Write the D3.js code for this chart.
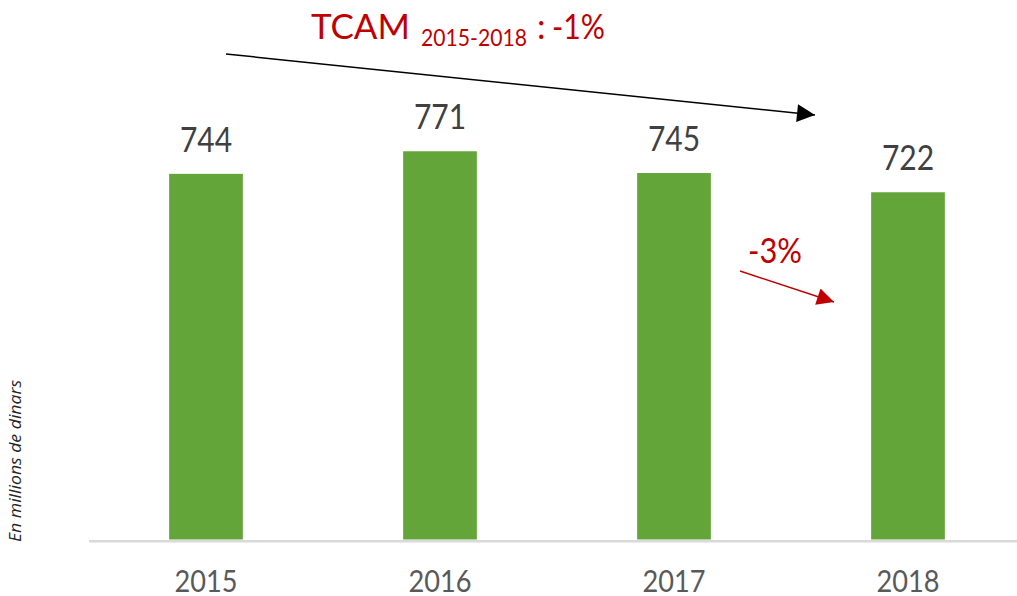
<!DOCTYPE html>
<html>
<head>
<meta charset="utf-8">
<script src="https://cdn.jsdelivr.net/npm/d3@7"></script>
<style>
  html, body { margin: 0; padding: 0; background: #fff; }
  svg { display: block; }
</style>
</head>
<body>
<svg id="chart" width="1017" height="596"></svg>
<script>
/* ── DATA ─────────────────────────────────────────────────────────── */
const years  = ['2015', '2016', '2017', '2018'];
const values = [744, 771, 745, 722];
const unitLabel  = 'En millions de dinars';
const trendMain  = ['TCAM', '2015-2018', ':', '-1%'];
const trendLast  = '-3%';

/* ── LAYOUT ───────────────────────────────────────────────────────── */
const W = 1017, H = 596;
const RED = '#C00000';
const GREEN = '#64A539';
const FONT = 'Lato, sans-serif';

const svg = d3.select('#chart');

const x = d3.scaleBand()
  .domain(years)
  .range([89, 1025])
  .paddingInner(0.685)
  .paddingOuter(0.3425);

const y = d3.scaleLinear()
  .domain([307, 800])
  .range([539.5, 127]);

/* ── AXIS LINE ────────────────────────────────────────────────────── */
svg.append('line')
  .attr('x1', 89).attr('x2', W)
  .attr('y1', 541.3).attr('y2', 541.3)
  .attr('stroke', '#d9d9d9')
  .attr('stroke-width', 2.5);

/* ── BARS ─────────────────────────────────────────────────────────── */
svg.selectAll('rect.bar')
  .data(values)
  .join('rect')
  .attr('class', 'bar')
  .attr('x', (d, i) => x(years[i]))
  .attr('width', x.bandwidth())
  .attr('y', d => y(d))
  .attr('height', d => y.range()[0] - y(d))
  .attr('fill', GREEN);

/* value labels */
svg.selectAll('text.val')
  .data(values)
  .join('text')
  .attr('class', 'val')
  .attr('x', (d, i) => x(years[i]) + x.bandwidth() / 2)
  .attr('y', d => y(d) - 22)
  .attr('text-anchor', 'middle')
  .attr('font-family', FONT)
  .attr('font-size', 35)
  .attr('textLength', d => String(d).length * 17.4)
  .attr('lengthAdjust', 'spacingAndGlyphs')
  .attr('fill', '#404040')
  .text(d => d);

/* year labels */
svg.selectAll('text.year')
  .data(years)
  .join('text')
  .attr('class', 'year')
  .attr('x', d => x(d) + x.bandwidth() / 2)
  .attr('y', 592)
  .attr('text-anchor', 'middle')
  .attr('font-family', FONT)
  .attr('font-size', 31)
  .attr('textLength', 63)
  .attr('lengthAdjust', 'spacingAndGlyphs')
  .attr('fill', '#595959')
  .text(d => d);

/* unit label */
svg.append('text')
  .attr('transform', 'translate(21,461) rotate(-90)')
  .attr('text-anchor', 'middle')
  .attr('font-family', '"Open Sans", sans-serif')
  .attr('font-style', 'italic')
  .attr('font-size', 15.5)
  .attr('textLength', 162)
  .attr('lengthAdjust', 'spacingAndGlyphs')
  .attr('fill', '#262626')
  .text(unitLabel);

/* ── TREND ARROWS ─────────────────────────────────────────────────── */
const defs = svg.append('defs');
function marker(id, color, w, h) {
  defs.append('marker')
    .attr('id', id)
    .attr('viewBox', '0 0 10 10')
    .attr('refX', 10).attr('refY', 5)
    .attr('markerUnits', 'userSpaceOnUse')
    .attr('markerWidth', w).attr('markerHeight', h)
    .attr('orient', 'auto')
    .append('path')
    .attr('d', 'M0,0L10,5L0,10Z')
    .attr('fill', color);
}
marker('arrow-black', '#000', 20, 18);
marker('arrow-red', RED, 20, 17);

svg.append('line')
  .attr('x1', 226).attr('y1', 54)
  .attr('x2', 815).attr('y2', 115)
  .attr('stroke', '#000')
  .attr('stroke-width', 1.5)
  .attr('marker-end', 'url(#arrow-black)');

svg.append('line')
  .attr('x1', 740).attr('y1', 271)
  .attr('x2', 834).attr('y2', 302)
  .attr('stroke', RED)
  .attr('stroke-width', 1.5)
  .attr('marker-end', 'url(#arrow-red)');

/* TCAM label */
const t = svg.append('text')
  .attr('font-family', FONT)
  .attr('fill', RED);
t.append('tspan').attr('x', 311).attr('y', 39).attr('font-size', 34)
  .attr('textLength', 99).attr('lengthAdjust', 'spacingAndGlyphs').text(trendMain[0]);
t.append('tspan').attr('x', 421).attr('y', 46).attr('font-size', 24)
  .attr('textLength', 106).attr('lengthAdjust', 'spacingAndGlyphs').text(trendMain[1]);
t.append('tspan').attr('x', 537).attr('y', 39).attr('font-size', 34).text(trendMain[2]);
t.append('tspan').attr('x', 552).attr('y', 39).attr('font-size', 34)
  .attr('textLength', 53).attr('lengthAdjust', 'spacingAndGlyphs').text(trendMain[3]);

svg.append('text')
  .attr('x', 748).attr('y', 263)
  .attr('font-family', FONT)
  .attr('font-size', 34)
  .attr('textLength', 54)
  .attr('lengthAdjust', 'spacingAndGlyphs')
  .attr('fill', RED)
  .text(trendLast);
</script>
</body>
</html>
